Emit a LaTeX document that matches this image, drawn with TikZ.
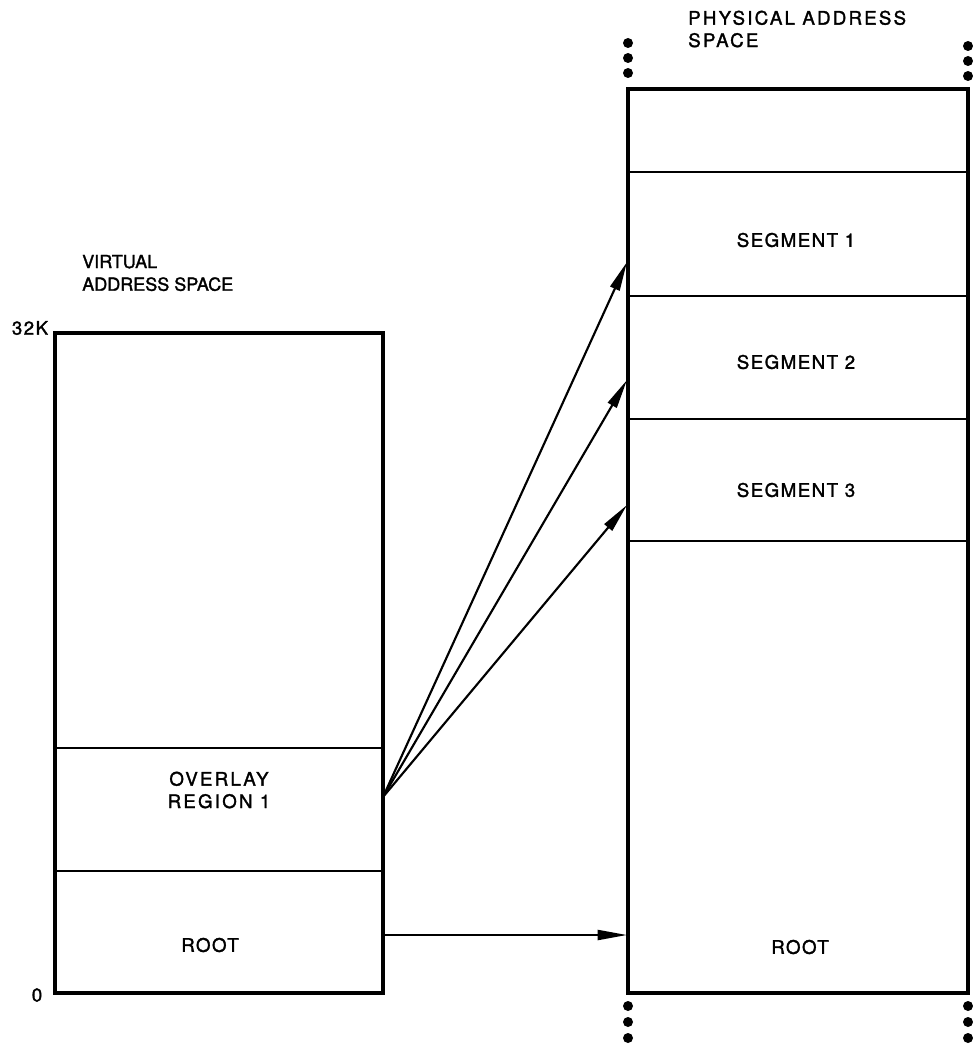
\documentclass[tikz,border=0pt]{standalone}
\usepackage{fontspec}
\setmainfont{TeX Gyre Heros}[LetterSpace=8,FakeBold=1.6]
\newfontfamily\tightfont{TeX Gyre Heros}[FakeBold=1.6]
\newfontfamily\widefont{TeX Gyre Heros}[LetterSpace=12,FakeBold=1.6]
\usetikzlibrary{arrows.meta}
\begin{document}
\begin{tikzpicture}[x=0.75pt,y=-0.75pt,
  outer/.style={draw, line width=3pt, line join=miter},
  divider/.style={draw, line width=1.6pt},
  lbl/.style={font=\fontsize{14}{16.8}\selectfont, inner sep=0pt, align=center},
  lbll/.style={font=\fontsize{14}{16.8}\selectfont, inner sep=0pt, align=left, anchor=west},
  conn/.style={line width=1.6pt, -{Triangle[length=22pt,width=7.5pt]}},
  dotmark/.style={fill, circle, inner sep=0pt, minimum size=7.5pt}]
\useasboundingbox (0,0) rectangle (973,1049);
% left box
\coordinate (vtl) at (55,333);
\coordinate (vbr) at (383,993);
\draw[divider] (55,748) -- (383,748);
\draw[divider] (55,871) -- (383,871);
\draw[outer] (vtl) rectangle (vbr);
% right box
\coordinate (ptl) at (628,89);
\coordinate (pbr) at (968,993);
\draw[divider] (628,172) -- (968,172);
\draw[divider] (628,296) -- (968,296);
\draw[divider] (628,419) -- (968,419);
\draw[divider] (628,541) -- (968,541);
\draw[outer] (ptl) rectangle (pbr);
% labels
\node[lbll, font=\fontsize{13.5}{17}\tightfont] (vas) at (82,273) {VIRTUAL\\ADDRESS SPACE};
\node[lbll, font=\fontsize{14}{16.8}\widefont] (pas) at (688,29) {PHYSICAL ADDRESS\\SPACE};
\node[lbl] (k32) at (30,328) {32K};
\node[lbl] (zero) at (37,995) {0};
\node[lbl, font=\fontsize{14}{16.8}\widefont] (ovl) at (219,790) {OVERLAY\\REGION 1};
\node[lbl] (vroot) at (210,945) {ROOT};
\node[lbl] (s1) at (796,240) {SEGMENT 1};
\node[lbl] (s2) at (796,362) {SEGMENT 2};
\node[lbl] (s3) at (796,490) {SEGMENT 3};
\node[lbl] (proot) at (800,947) {ROOT};
% dots
\foreach \i/\y in {a/43,b/58,c/73} {
  \node[dotmark] (dl\i) at (628,\y) {};
  \node[dotmark] (dr\i) at (968,\y+3) {};
}
\foreach \i/\y in {a/1006,b/1022,c/1038} {
  \node[dotmark] (bl\i) at (628,\y) {};
  \node[dotmark] (br\i) at (968,\y) {};
}
% connectors
\coordinate (src) at (383,797);
\coordinate (t1) at (627,262);
\coordinate (t2) at (627,380);
\coordinate (t3) at (627,505);
\coordinate (rs) at (383,935);
\coordinate (rt) at (627,935);
\draw[conn] (src) -- (t1);
\draw[conn] (src) -- (t2);
\draw[conn] (src) -- (t3);
\draw[conn] (rs) -- (rt);
\end{tikzpicture}
\end{document}
